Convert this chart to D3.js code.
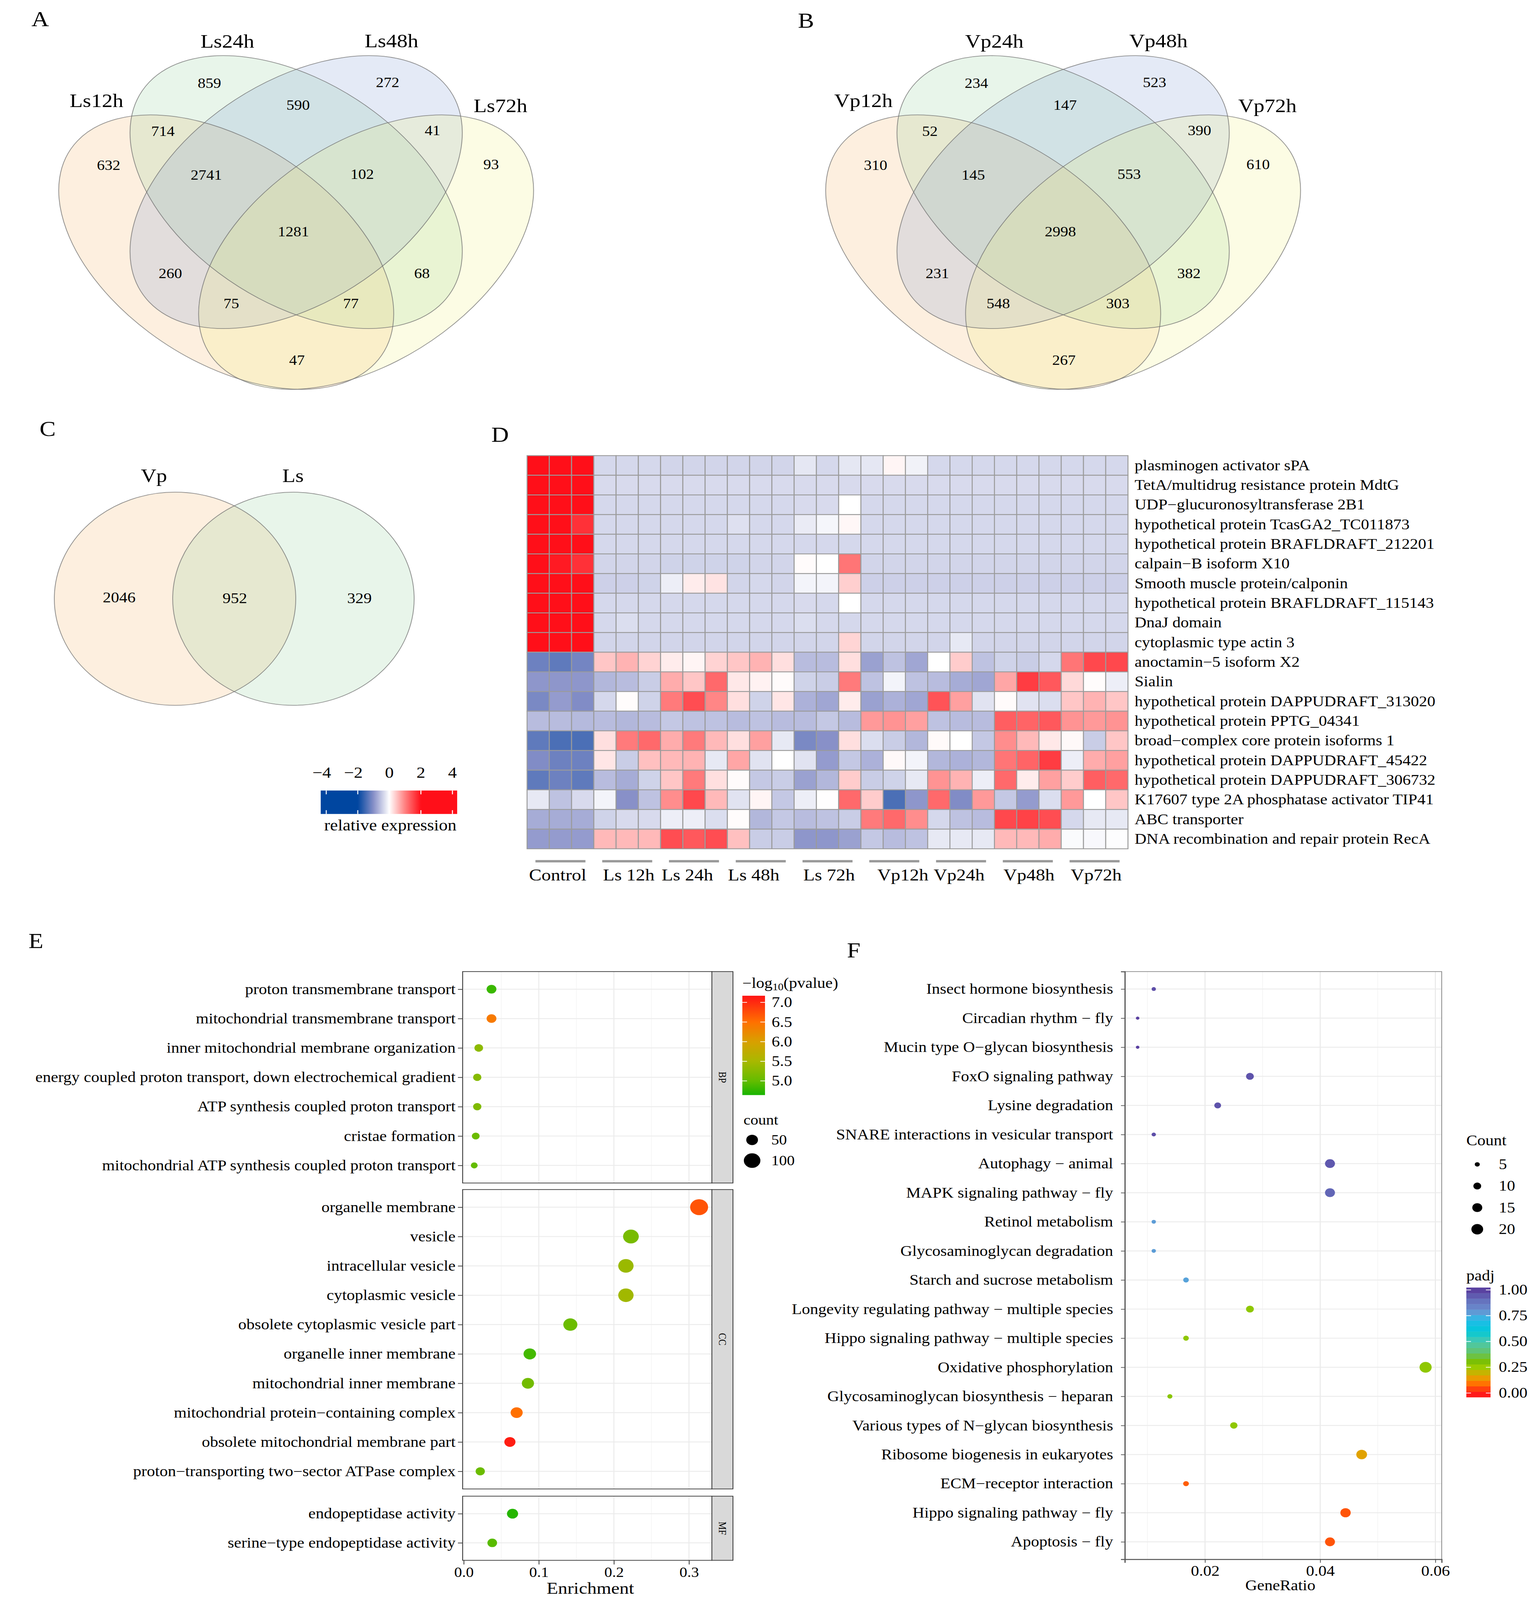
<!DOCTYPE html>
<html><head><meta charset="utf-8">
<script src="https://cdn.jsdelivr.net/npm/d3@7"></script>
<style>
html,body{margin:0;padding:0;background:#fff;overflow:hidden;width:100%;height:100%}
#c{display:block;width:100vw;height:100vh}
text{font-family:"Liberation Serif","Times New Roman",serif;fill:#000}
</style>
</head><body>
<svg id="c" viewBox="0 0 3939 4639" preserveAspectRatio="none"></svg>
<script>
// ---------------- DATA ----------------
const vennASets = ["Ls12h","Ls24h","Ls48h","Ls72h"];
const vennACounts = [859,272,590,714,41,632,93,2741,102,1281,260,68,75,77,47];
const vennBSets = ["Vp12h","Vp24h","Vp48h","Vp72h"];
const vennBCounts = [234,523,147,52,390,310,610,145,553,2998,231,382,548,303,267];
const vennCSets = ["Vp","Ls"];
const vennCCounts = [2046,952,329];

const heatGenes = ["plasminogen activator sPA","TetA/multidrug resistance protein MdtG","UDP\u2212glucuronosyltransferase 2B1","hypothetical protein TcasGA2_TC011873","hypothetical protein BRAFLDRAFT_212201","calpain\u2212B isoform X10","Smooth muscle protein/calponin","hypothetical protein BRAFLDRAFT_115143","DnaJ domain","cytoplasmic type actin 3","anoctamin\u22125 isoform X2","Sialin","hypothetical protein DAPPUDRAFT_313020","hypothetical protein PPTG_04341","broad\u2212complex core protein isoforms 1","hypothetical protein DAPPUDRAFT_45422","hypothetical protein DAPPUDRAFT_306732","K17607 type 2A phosphatase activator TIP41","ABC transporter","DNA recombination and repair protein RecA"];
const heatGroups = ["Control","Ls 12h","Ls 24h","Ls 48h","Ls 72h","Vp12h","Vp24h","Vp48h","Vp72h"];
const heatValues = [
[2.5,2.3,2.0,-0.35,-0.35,-0.35,-0.38,-0.38,-0.38,-0.38,-0.38,-0.38,-0.22,-0.35,-0.22,-0.22,0.08,-0.12,-0.35,-0.35,-0.35,-0.35,-0.35,-0.35,-0.35,-0.35,-0.35],
[2.1,2.4,2.3,-0.33,-0.33,-0.33,-0.33,-0.33,-0.33,-0.33,-0.33,-0.33,-0.33,-0.33,-0.33,-0.33,-0.33,-0.33,-0.33,-0.33,-0.33,-0.33,-0.33,-0.33,-0.33,-0.33,-0.33],
[2.4,2.4,2.1,-0.35,-0.35,-0.35,-0.35,-0.35,-0.35,-0.35,-0.35,-0.35,-0.33,-0.33,0.0,-0.35,-0.35,-0.35,-0.35,-0.35,-0.35,-0.35,-0.35,-0.35,-0.35,-0.35,-0.35],
[2.4,2.5,1.7,-0.35,-0.35,-0.35,-0.35,-0.35,-0.35,-0.28,-0.35,-0.35,-0.18,-0.08,0.06,-0.35,-0.35,-0.35,-0.35,-0.35,-0.35,-0.35,-0.35,-0.35,-0.35,-0.35,-0.35],
[2.4,2.4,2.3,-0.35,-0.35,-0.35,-0.35,-0.35,-0.35,-0.35,-0.35,-0.35,-0.35,-0.35,-0.35,-0.35,-0.35,-0.35,-0.35,-0.35,-0.35,-0.35,-0.35,-0.35,-0.35,-0.35,-0.35],
[2.6,1.9,1.7,-0.38,-0.38,-0.38,-0.4,-0.4,-0.4,-0.4,-0.38,-0.38,0.03,0.0,1.1,-0.38,-0.38,-0.38,-0.38,-0.38,-0.38,-0.38,-0.38,-0.38,-0.38,-0.38,-0.38],
[2.0,2.2,2.6,-0.42,-0.42,-0.4,-0.15,0.15,0.22,-0.38,-0.35,-0.38,-0.1,-0.1,0.38,-0.42,-0.42,-0.42,-0.42,-0.42,-0.42,-0.42,-0.42,-0.42,-0.42,-0.42,-0.42],
[2.3,2.2,2.4,-0.35,-0.35,-0.35,-0.35,-0.35,-0.35,-0.35,-0.35,-0.35,-0.33,-0.35,0.0,-0.35,-0.35,-0.35,-0.35,-0.35,-0.35,-0.35,-0.35,-0.35,-0.35,-0.35,-0.35],
[2.2,2.3,2.5,-0.35,-0.3,-0.35,-0.35,-0.35,-0.35,-0.35,-0.35,-0.35,-0.3,-0.35,-0.35,-0.35,-0.35,-0.35,-0.35,-0.35,-0.35,-0.35,-0.35,-0.35,-0.35,-0.35,-0.35],
[2.6,2.2,2.1,-0.38,-0.38,-0.38,-0.38,-0.38,-0.38,-0.38,-0.38,-0.38,-0.38,-0.38,0.33,-0.38,-0.38,-0.38,-0.38,-0.2,-0.38,-0.38,-0.38,-0.38,-0.38,-0.38,-0.38],
[-1.2,-1.3,-1.15,0.45,0.6,0.35,0.15,0.08,0.35,0.45,0.6,0.25,-0.6,-0.6,0.25,-0.85,-0.55,-0.8,0.0,0.4,-0.55,-0.4,-0.45,-0.35,1.1,1.5,1.5],
[-0.95,-0.95,-0.95,-0.65,-0.6,-0.45,0.65,0.45,1.2,0.18,0.1,0.03,-0.4,-0.45,1.05,-0.55,-0.1,-0.55,-0.6,-0.75,-0.8,0.7,1.6,1.35,0.3,0.02,-0.15],
[-1.1,-0.9,-1.05,-0.35,0.02,-0.4,1.05,1.45,0.95,0.25,-0.4,0.2,-0.7,-0.8,0.15,-0.85,-0.7,-0.8,1.4,0.75,-0.25,0.03,-0.25,-0.3,0.45,0.6,0.45],
[-0.6,-0.6,-0.62,-0.6,-0.65,-0.6,-0.5,-0.55,-0.55,-0.6,-0.55,-0.6,-0.6,-0.5,-0.6,0.8,0.85,0.75,-0.55,-0.6,-0.6,1.3,1.25,1.35,0.85,0.8,0.85],
[-1.3,-1.45,-1.45,0.25,1.05,1.2,0.65,1.05,0.55,0.25,0.75,-0.2,-1.1,-1.0,0.25,-0.3,-0.45,-0.65,0.04,0.0,-0.5,0.9,0.55,0.18,0.05,-0.45,0.45],
[-1.05,-1.2,-1.2,0.2,-0.45,0.5,0.55,0.6,-0.2,0.7,-0.25,0.0,-0.25,-0.9,-0.5,-0.7,0.05,-0.1,-0.65,-0.7,-0.65,1.1,1.25,1.6,-0.15,0.65,0.75],
[-1.3,-1.2,-1.3,-0.6,-0.75,-0.4,0.45,1.05,0.25,0.03,-0.5,-0.45,-0.85,-0.65,0.4,-0.45,-0.4,-0.2,0.85,0.6,-0.15,1.2,0.15,0.75,0.4,1.3,1.2],
[-0.2,-0.55,-0.33,-0.1,-1.0,-0.55,0.9,1.5,0.55,-0.25,0.08,-0.5,-0.15,0.01,1.2,0.4,-1.45,-0.95,1.2,-1.05,0.8,-0.5,-0.9,-0.3,0.8,0.0,0.45],
[-0.75,-0.75,-0.75,-0.4,-0.33,-0.33,-0.15,-0.15,-0.3,0.02,-0.65,-0.5,-0.6,-0.55,-0.45,1.05,1.2,0.9,-0.35,-0.55,-0.6,1.5,1.55,1.45,-0.35,-0.2,-0.2],
[-0.9,-0.9,-0.9,0.55,0.55,0.55,1.45,1.35,1.45,0.5,-0.45,-0.45,-0.95,-0.95,-0.85,-0.5,-0.6,-0.55,-0.2,-0.2,-0.2,0.55,0.55,0.65,-0.04,-0.06,-0.02]
];
const heatLegendTicks = [-4,-2,0,2,4];

// GO enrichment (panel E)
const bpTerms = ["proton transmembrane transport","mitochondrial transmembrane transport","inner mitochondrial membrane organization","energy coupled proton transport, down electrochemical gradient","ATP synthesis coupled proton transport","cristae formation","mitochondrial ATP synthesis coupled proton transport"];
const bpEnrich = [0.037,0.037,0.020,0.018,0.018,0.016,0.014];
const bpLogP = [4.8,6.4,5.3,5.25,5.2,5.05,5.0];
const bpCount = [35,35,27,25,25,22,17];
const ccTerms = ["organelle membrane","vesicle","intracellular vesicle","cytoplasmic vesicle","obsolete cytoplasmic vesicle part","organelle inner membrane","mitochondrial inner membrane","mitochondrial protein\u2212containing complex","obsolete mitochondrial membrane part","proton\u2212transporting two\u2212sector ATPase complex"];
const ccEnrich = [0.3135,0.2227,0.216,0.216,0.142,0.088,0.0855,0.0705,0.0615,0.022];
const ccLogP = [6.7,5.15,5.4,5.45,5.05,4.85,5.1,6.5,7.1,5.05];
const ccCount = [118,90,86,86,72,57,54,53,45,31];
const mfTerms = ["endopeptidase activity","serine\u2212type endopeptidase activity"];
const mfEnrich = [0.065,0.038];
const mfLogP = [4.7,4.95];
const mfCount = [45,34];
const goXTicks = [0,0.1,0.2,0.3];
const goPTicks = [5.0,5.5,6.0,6.5,7.0];
const goCountTicks = [50,100];

// KEGG enrichment (panel F)
const keggTerms = ["Insect hormone biosynthesis","Circadian rhythm \u2212 fly","Mucin type O\u2212glycan biosynthesis","FoxO signaling pathway","Lysine degradation","SNARE interactions in vesicular transport","Autophagy \u2212 animal","MAPK signaling pathway \u2212 fly","Retinol metabolism","Glycosaminoglycan degradation","Starch and sucrose metabolism","Longevity regulating pathway \u2212 multiple species","Hippo signaling pathway \u2212 multiple species","Oxidative phosphorylation","Glycosaminoglycan biosynthesis \u2212 heparan","Various types of N\u2212glycan biosynthesis","Ribosome biogenesis in eukaryotes","ECM\u2212receptor interaction","Hippo signaling pathway \u2212 fly","Apoptosis \u2212 fly"];
const keggRatio = [0.0111,0.0083,0.0083,0.0278,0.0222,0.0111,0.0417,0.0417,0.0111,0.0111,0.0167,0.0278,0.0167,0.0583,0.0139,0.025,0.0472,0.0167,0.0444,0.0417];
const keggCount = [4,3,3,10,8,4,15,15,4,4,6,10,6,21,5,9,17,6,16,15];
const keggPadj = [0.97,1.0,1.0,0.96,0.96,0.97,0.95,0.92,0.78,0.78,0.77,0.27,0.27,0.27,0.28,0.27,0.16,0.07,0.06,0.06];
const keggXTicks = [0.02,0.04,0.06];
const keggCountTicks = [5,10,15,20];
const keggPadjTicks = [0,0.25,0.5,0.75,1.0];

// ---------------- LAYOUT ----------------
const svg = d3.select("#c");
svg.append("rect").attr("width",3939).attr("height",4639).attr("fill","#fff");
const defs = svg.append("defs");

const panelLetters = [["A",103,55],["B",2063,60],["C",122,1243],["D",1280,1260],["E",92,2728],["F",2185,2755]];
panelLetters.forEach(([t,x,y])=>svg.append("text").attr("x",x).attr("y",y).attr("text-anchor","middle")
  .attr("dominant-baseline","central").attr("font-size",62).text(t));

// ---------- Quad Venn ----------
const quadEllipses = [
  {cx:579,cy:731,rx:499,ry:305,rot:40.3},
  {cx:758,cy:557,rx:493,ry:307,rot:40.3},
  {cx:758,cy:557,rx:493,ry:307,rot:-40.3},
  {cx:937,cy:731,rx:499,ry:305,rot:-40.3}];
const quadFills = ["#F5AF5F","#8CCD96","#7896D2","#F0F078"];
const quadRegionPos = [[536,241],[992,239],[763,305],[417,380],[1107,378],[278,479],[1257,477],[528,507],[927,505],[751,671],[436,793],[1080,793],[592,880],[898,880],[760,1044]];
const quadSetPos = [[247,292],[582,120],[1002,119],[1281,306]];

function drawQuad(ox, sets, counts){
  const g = svg.append("g").attr("transform",`translate(${ox},0)`);
  quadEllipses.forEach((e,i)=>g.append("ellipse").attr("rx",e.rx).attr("ry",e.ry)
    .attr("transform",`translate(${e.cx},${e.cy}) rotate(${e.rot})`)
    .attr("fill",quadFills[i]).attr("fill-opacity",0.2));
  quadEllipses.forEach((e)=>g.append("ellipse").attr("rx",e.rx).attr("ry",e.ry)
    .attr("transform",`translate(${e.cx},${e.cy}) rotate(${e.rot})`)
    .attr("fill","none").attr("stroke","#6e6e6e").attr("stroke-opacity",0.75).attr("stroke-width",2));
  counts.forEach((c,i)=>g.append("text").attr("x",quadRegionPos[i][0]).attr("y",quadRegionPos[i][1])
    .attr("text-anchor","middle").attr("dominant-baseline","central").attr("font-size",40).text(c));
  sets.forEach((s,i)=>g.append("text").attr("x",quadSetPos[i][0]).attr("y",quadSetPos[i][1])
    .attr("text-anchor","middle").attr("dominant-baseline","central").attr("font-size",55).text(s));
}
drawQuad(0, vennASets, vennACounts);
drawQuad(1963, vennBSets, vennBCounts);

// ---------- Pair Venn ----------
(function(){
  const g = svg.append("g");
  const circles = [{cx:448,cy:1736,r:309,fill:"#F5AF5F"},{cx:751,cy:1736,r:309,fill:"#8CCD96"}];
  circles.forEach(c=>g.append("circle").attr("cx",c.cx).attr("cy",c.cy).attr("r",c.r).attr("fill",c.fill).attr("fill-opacity",0.2));
  circles.forEach(c=>g.append("circle").attr("cx",c.cx).attr("cy",c.cy).attr("r",c.r).attr("fill","none").attr("stroke","#6e6e6e").attr("stroke-opacity",0.75).attr("stroke-width",2));
  const numPos = [[305,1733],[601,1735],[920,1735]];
  vennCCounts.forEach((c,i)=>g.append("text").attr("x",numPos[i][0]).attr("y",numPos[i][1]).attr("text-anchor","middle").attr("dominant-baseline","central").attr("font-size",42).text(c));
  const setPos = [[394,1379],[750,1379]];
  vennCSets.forEach((s,i)=>g.append("text").attr("x",setPos[i][0]).attr("y",setPos[i][1]).attr("text-anchor","middle").attr("dominant-baseline","central").attr("font-size",55).text(s));
})();

// ---------- Heatmap ----------
const heatColor = d3.scaleLinear().domain([-2,-1,0,1,2]).range(["#0046A0","#8890C8","#FFFFFF","#FF8080","#FF0F19"]).clamp(true);
const groupLabelNudge = [-7,4,-17,-18,4,22,-5,3,4];
(function(){
  const g = svg.append("g");
  const cols = d3.range(heatGroups.length*3);
  const hx = d3.scaleBand().domain(cols).range([1349,2887]);
  const hy = d3.scaleBand().domain(heatGenes).range([1321,2461]);
  heatValues.forEach((row,ri)=>row.forEach((v,ci)=>{
    g.append("rect").attr("x",hx(ci)).attr("y",hy(heatGenes[ri])).attr("width",hx.bandwidth()).attr("height",hy.bandwidth())
      .attr("fill",heatColor(v)).attr("stroke","#9b9b9b").attr("stroke-width",2.5);
  }));
  heatGenes.forEach(gn=>g.append("text").attr("x",2904).attr("y",hy(gn)+hy.bandwidth()/2)
    .attr("dominant-baseline","central").attr("font-size",42).text(gn));
  heatGroups.forEach((grp,gi)=>{
    const cx = (hx(gi*3)+hx(gi*3+2)+hx.bandwidth())/2;
    g.append("line").attr("x1",cx-64).attr("x2",cx+64).attr("y1",2497).attr("y2",2497).attr("stroke","#999").attr("stroke-width",7);
    g.append("text").attr("x",cx+groupLabelNudge[gi]).attr("y",2537).attr("text-anchor","middle").attr("dominant-baseline","central").attr("font-size",48).text(grp);
  });
  // legend
  const lx = d3.scaleLinear().domain([-4,4]).range([835,1158]);
  const grad = defs.append("linearGradient").attr("id","heatGrad");
  const lo=-4.35, hi=4.3;
  d3.range(0,1.0001,0.01).forEach(t=>grad.append("stop").attr("offset",t).attr("stop-color",heatColor(lo+(hi-lo)*t)));
  g.append("rect").attr("x",lx(lo)).attr("y",2292).attr("width",lx(hi)-lx(lo)).attr("height",68).attr("fill","url(#heatGrad)");
  heatLegendTicks.forEach(t=>{
    g.append("line").attr("x1",lx(t)).attr("x2",lx(t)).attr("y1",2292).attr("y2",2303).attr("stroke","#fff").attr("stroke-width",2.5);
    g.append("line").attr("x1",lx(t)).attr("x2",lx(t)).attr("y1",2349).attr("y2",2360).attr("stroke","#fff").attr("stroke-width",2.5);
    g.append("text").attr("x",lx(t)).attr("y",2240).attr("text-anchor",t<0?"end":"middle").attr("dx",t<0?"0.28em":0).attr("dominant-baseline","central").attr("font-size",45).text(t<0?"\u2212"+Math.abs(t):t);
  });
  g.append("text").attr("x",999).attr("y",2392).attr("text-anchor","middle").attr("dominant-baseline","central").attr("font-size",45).text("relative expression");
})();

// ---------- Panel E ----------
const goColor = d3.scaleLinear().domain([4.64,5.0,5.5,6.0,6.5,7.0,7.17])
  .range(["#18B400","#64BC00","#A8B800","#D8A000","#FF7000","#FF2A10","#FF1414"]).clamp(true);
const goSize = d3.scaleSqrt().domain([0,100]).range([0,21.2]);
(function(){
  const g = svg.append("g");
  const x = d3.scaleLinear().domain([-0.0015,0.3305]).range([1184,1822]);
  const facets = [
    {name:"BP",terms:bpTerms,en:bpEnrich,lp:bpLogP,ct:bpCount,y0:2817,y1:3430},
    {name:"CC",terms:ccTerms,en:ccEnrich,lp:ccLogP,ct:ccCount,y0:3449,y1:4317},
    {name:"MF",terms:mfTerms,en:mfEnrich,lp:mfLogP,ct:mfCount,y0:4338,y1:4524}];
  facets.forEach(f=>{
    const y = d3.scalePoint().domain(f.terms).range([f.y0,f.y1]).padding(0.6);
    g.append("rect").attr("x",1184).attr("y",f.y0).attr("width",638).attr("height",f.y1-f.y0).attr("fill","#fff");
    [0.05,0.15,0.25].forEach(v=>g.append("line").attr("x1",x(v)).attr("x2",x(v)).attr("y1",f.y0).attr("y2",f.y1).attr("stroke","#F4F4F4").attr("stroke-width",1.5));
    goXTicks.forEach(v=>g.append("line").attr("x1",x(v)).attr("x2",x(v)).attr("y1",f.y0).attr("y2",f.y1).attr("stroke","#EBEBEB").attr("stroke-width",2.5));
    f.terms.forEach(t=>g.append("line").attr("x1",1184).attr("x2",1822).attr("y1",y(t)).attr("y2",y(t)).attr("stroke","#EBEBEB").attr("stroke-width",2.5));
    f.terms.forEach((t,i)=>g.append("circle").attr("cx",x(f.en[i])).attr("cy",y(t)).attr("r",goSize(f.ct[i])).attr("fill",goColor(f.lp[i])));
    g.append("rect").attr("x",1184).attr("y",f.y0).attr("width",638).attr("height",f.y1-f.y0).attr("fill","none").attr("stroke","#333").attr("stroke-width",2);
    g.append("rect").attr("x",1822).attr("y",f.y0).attr("width",54).attr("height",f.y1-f.y0).attr("fill","#D9D9D9").attr("stroke","#333").attr("stroke-width",2);
    g.append("text").attr("transform",`translate(1849,${(f.y0+f.y1)/2}) rotate(90)`).attr("text-anchor","middle").attr("dominant-baseline","central").attr("font-size",27).attr("fill","#1a1a1a").text(f.name);
    const ax = g.append("g").attr("transform","translate(1184,0)").call(d3.axisLeft(y).tickSize(12).tickPadding(6));
    ax.select(".domain").remove();
    ax.selectAll(".tick line").attr("stroke","#333").attr("stroke-width",2);
    ax.selectAll(".tick text").attr("font-size",42).attr("fill","#000").attr("font-family",'"Liberation Serif",serif');
  });
  const xa = g.append("g").attr("transform","translate(0,4524)").call(d3.axisBottom(x).tickValues(goXTicks).tickFormat(d3.format(".1f")).tickSize(12).tickPadding(8));
  xa.select(".domain").remove();
  xa.selectAll(".tick line").attr("stroke","#333").attr("stroke-width",2);
  xa.selectAll(".tick text").attr("font-size",40).attr("fill","#222").attr("font-family",'"Liberation Serif",serif');
  g.append("text").attr("x",1511).attr("y",4605).attr("text-anchor","middle").attr("dominant-baseline","central").attr("font-size",48).text("Enrichment");
  // legends
  const t = g.append("text").attr("x",1900).attr("y",2851).attr("dominant-baseline","central").attr("font-size",42);
  t.append("tspan").text("\u2212log");
  t.append("tspan").attr("font-size",28).attr("dy",10).text("10");
  t.append("tspan").attr("dy",-10).text("(pvalue)");
  const ly = d3.scaleLinear().domain([4.64,7.17]).range([3175,2887]);
  const grad = defs.append("linearGradient").attr("id","goGrad").attr("x1",0).attr("x2",0).attr("y1",1).attr("y2",0);
  d3.range(0,1.0001,0.02).forEach(s=>grad.append("stop").attr("offset",s).attr("stop-color",goColor(4.64+s*(7.17-4.64))));
  g.append("rect").attr("x",1900).attr("y",2887).attr("width",58).attr("height",288).attr("fill","url(#goGrad)");
  goPTicks.forEach(v=>{
    g.append("line").attr("x1",1900).attr("x2",1912).attr("y1",ly(v)).attr("y2",ly(v)).attr("stroke","#fff").attr("stroke-width",2);
    g.append("line").attr("x1",1946).attr("x2",1958).attr("y1",ly(v)).attr("y2",ly(v)).attr("stroke","#fff").attr("stroke-width",2);
    g.append("text").attr("x",1975).attr("y",ly(v)).attr("dominant-baseline","central").attr("font-size",42).text(v.toFixed(1));
  });
  g.append("text").attr("x",1903).attr("y",3247).attr("dominant-baseline","central").attr("font-size",40).text("count");
  const cy = d3.scalePoint().domain(goCountTicks).range([3305,3365]);
  goCountTicks.forEach(c=>{
    g.append("circle").attr("cx",1925).attr("cy",cy(c)).attr("r",goSize(c)).attr("fill","#000");
    g.append("text").attr("x",1974).attr("y",cy(c)).attr("dominant-baseline","central").attr("font-size",40).text(c);
  });
})();

// ---------- Panel F ----------
const padjColor = d3.scaleLinear()
  .domain([0,0.05,0.1,0.15,0.2,0.25,0.3,0.4,0.5,0.6,0.7,0.75,0.8,0.9,1.0])
  .range(["#FF1A1A","#FF4A0A","#FF7A00","#E89E00","#C4B400","#9CCC00","#7CC000","#62C470","#48C8B0","#00C8D8","#20BCE8","#48AEE0","#6A90D0","#6470BC","#5A40A0"]).clamp(true);
const keggSize = d3.scaleSqrt().domain([3,21]).range([4.5,15.5]);
(function(){
  const g = svg.append("g");
  const x = d3.scaleLinear().domain([0.00608,0.0611]).range([2879,3690]);
  const y = d3.scalePoint().domain(keggTerms).range([2817,4521]).padding(0.6);
  g.append("rect").attr("x",2879).attr("y",2817).attr("width",811).attr("height",1704).attr("fill","#fff");
  [0.01,0.03,0.05].forEach(v=>g.append("line").attr("x1",x(v)).attr("x2",x(v)).attr("y1",2817).attr("y2",4521).attr("stroke","#F2F2F2").attr("stroke-width",1.5));
  keggXTicks.forEach(v=>g.append("line").attr("x1",x(v)).attr("x2",x(v)).attr("y1",2817).attr("y2",4521).attr("stroke","#E8E8E8").attr("stroke-width",2.5));
  keggTerms.forEach(t=>g.append("line").attr("x1",2879).attr("x2",3690).attr("y1",y(t)).attr("y2",y(t)).attr("stroke","#EBEBEB").attr("stroke-width",2.5));
  keggTerms.forEach((t,i)=>g.append("circle").attr("cx",x(keggRatio[i])).attr("cy",y(t)).attr("r",keggSize(keggCount[i])).attr("fill",padjColor(keggPadj[i])));
  g.append("rect").attr("x",2879).attr("y",2817).attr("width",811).attr("height",1704).attr("fill","none").attr("stroke","#8a8a8a").attr("stroke-width",2);
  const ya = g.append("g").attr("transform","translate(2879,0)").call(d3.axisLeft(y).tickSize(10).tickPadding(20));
  ya.select(".domain").attr("stroke","#555").attr("stroke-width",3);
  ya.selectAll(".tick line").attr("stroke","#555").attr("stroke-width",2);
  ya.selectAll(".tick text").attr("font-size",42).attr("fill","#000").attr("font-family",'"Liberation Serif",serif');
  const xa = g.append("g").attr("transform","translate(0,4521)").call(d3.axisBottom(x).tickValues(keggXTicks).tickFormat(d3.format(".2f")).tickSize(10).tickPadding(8));
  xa.select(".domain").attr("stroke","#555").attr("stroke-width",3);
  xa.selectAll(".tick line").attr("stroke","#555").attr("stroke-width",2);
  xa.selectAll(".tick text").attr("font-size",42).attr("fill","#222").attr("font-family",'"Liberation Serif",serif');
  g.append("text").attr("x",3277).attr("y",4597).attr("text-anchor","middle").attr("dominant-baseline","central").attr("font-size",42).text("GeneRatio");
  // Count legend
  g.append("text").attr("x",3753).attr("y",3307).attr("dominant-baseline","central").attr("font-size",42).text("Count");
  const cy = d3.scalePoint().domain(keggCountTicks).range([3376,3564]);
  keggCountTicks.forEach(c=>{
    g.append("circle").attr("cx",3781).attr("cy",cy(c)).attr("r",keggSize(c)).attr("fill","#000");
    g.append("text").attr("x",3836).attr("y",cy(c)).attr("dominant-baseline","central").attr("font-size",42).text(c);
  });
  // padj legend
  g.append("text").attr("x",3753).attr("y",3699).attr("dominant-baseline","central").attr("font-size",42).text("padj");
  const ly = d3.scaleLinear().domain([0,1]).range([4039,3740]);
  const nb = 20, lo=-0.04, hi=1.023;
  d3.range(nb).forEach(k=>{
    const a = lo+(hi-lo)*k/nb, b = lo+(hi-lo)*(k+1)/nb;
    g.append("rect").attr("x",3753).attr("y",ly(b)).attr("width",62).attr("height",ly(a)-ly(b)+0.5).attr("fill",padjColor((a+b)/2));
  });
  keggPadjTicks.forEach(v=>{
    g.append("line").attr("x1",3753).attr("x2",3765).attr("y1",ly(v)).attr("y2",ly(v)).attr("stroke","#fff").attr("stroke-width",2);
    g.append("line").attr("x1",3803).attr("x2",3815).attr("y1",ly(v)).attr("y2",ly(v)).attr("stroke","#fff").attr("stroke-width",2);
    g.append("text").attr("x",3836).attr("y",ly(v)).attr("dominant-baseline","central").attr("font-size",42).text(v.toFixed(2));
  });
})();
</script>
</body></html>
